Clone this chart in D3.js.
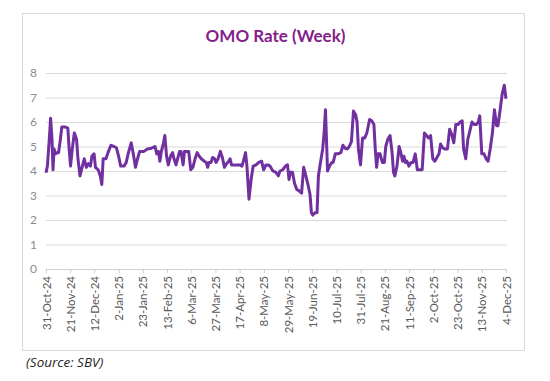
<!DOCTYPE html>
<html>
<head>
<meta charset="utf-8">
<script src="https://cdn.jsdelivr.net/npm/d3@7"></script>
<style>
  html, body { margin: 0; padding: 0; background: #fff; }
  svg { display: block; }
</style>
</head>
<body>
<svg id="chart" width="550" height="381"></svg>
<script>
// ---- data ----
const startDate = "2024-10-31";
const tickLabels = ["31-Oct-24","21-Nov-24","12-Dec-24","2-Jan-25","23-Jan-25","13-Feb-25","6-Mar-25","27-Mar-25","17-Apr-25","8-May-25","29-May-25","19-Jun-25","10-Jul-25","31-Jul-25","21-Aug-25","11-Sep-25","2-Oct-25","23-Oct-25","13-Nov-25","4-Dec-25"];
const tickDays = [0,21,42,63,84,105,126,147,168,189,210,231,252,273,294,315,336,357,378,399];
const yTicks = [0,1,2,3,4,5,6,7,8];
// days after 31-Oct-24
const days = [0,1.2,2.7,4.0,5.2,6.1,7.0,8.2,9.4,10.9,12.5,13.7,16.4,18.9,20.1,21.3,22.8,24.6,26.5,27.7,29.5,31.3,33.2,35.0,36.8,38.6,39.8,41.7,42.9,45.3,47.1,48.4,49.6,52.0,53.8,56.3,59.0,61.1,63.0,64.8,67.8,69.6,71.5,73.9,75.7,77.6,79.4,81.2,84.9,87.9,91.5,94.6,96.1,97.6,98.8,100.1,101.9,103.1,104.6,106.1,108.0,109.8,111.0,112.8,114.7,115.9,117.1,118.9,120.1,122.0,123.8,125.6,127.4,129.3,131.1,132.9,134.7,137.2,139.0,140.2,141.4,143.2,144.5,146.3,147.5,149.3,151.2,153.0,154.8,156.6,158.5,159.7,160.9,163.3,165.8,168.2,170.0,171.2,173.1,174.3,176.1,177.9,179.7,182.2,184.6,187.0,188.8,190.7,192.5,194.3,196.8,199.2,201.6,202.9,205.3,207.7,209.5,210.8,212.0,213.8,215.6,217.5,219.3,221.7,223.5,225.4,227.2,229.0,230.2,231.4,233.3,235.1,236.3,238.1,240.0,241.2,242.4,244.2,246.0,247.9,249.1,250.9,253.3,255.8,257.6,259.4,261.3,263.1,264.9,266.7,268.6,269.8,271.0,272.8,274.6,276.5,278.3,280.7,282.5,284.4,285.6,286.8,288.0,289.8,291.7,293.5,294.7,296.5,298.4,300.2,301.4,302.6,304.4,306.3,307.5,309.3,310.5,311.7,313.0,314.8,316.6,318.4,320.3,322.1,324.5,326.3,328.2,330.0,331.8,333.6,335.5,337.3,339.1,340.9,342.2,344.0,345.8,348.2,350.1,351.9,353.7,355.5,357.4,359.2,361.0,362.2,364.1,365.9,367.7,369.5,371.4,373.2,375.0,376.2,378.0,379.9,381.7,383.5,385.3,387.2,389.0,390.8,392.0,393.9,395.7,397.5,399.0];
const rates = [3.93,4.2,5.2,6.15,5.3,4.05,4.9,4.7,4.75,4.75,5.3,5.8,5.8,5.75,4.9,4.2,4.9,5.55,5.3,4.5,3.8,4.15,4.5,4.15,4.3,4.2,4.6,4.7,4.15,4.05,3.8,3.45,4.5,4.5,4.75,5.05,5.0,4.95,4.6,4.2,4.2,4.35,4.75,5.15,4.7,4.15,4.5,4.8,4.8,4.9,4.93,5.0,4.7,4.8,4.4,4.8,5.15,5.45,4.6,4.25,4.6,4.75,4.5,4.25,4.6,4.8,4.8,4.25,4.8,4.8,4.8,4.05,4.15,4.5,4.75,4.6,4.5,4.4,4.35,4.15,4.35,4.35,4.55,4.5,4.35,4.5,4.8,4.55,4.15,4.3,4.4,4.5,4.25,4.25,4.25,4.25,4.2,4.4,4.75,4.2,2.85,3.65,4.2,4.25,4.35,4.4,4.05,4.25,4.25,4.2,4.0,3.95,3.8,4.0,4.05,4.2,4.25,3.65,3.95,3.95,3.5,3.25,3.2,3.1,4.15,3.8,3.45,3.05,2.3,2.2,2.3,2.3,3.8,4.35,4.9,5.55,6.5,4.0,4.2,4.35,4.35,4.7,4.7,4.75,5.05,4.93,4.9,5.0,5.2,6.45,6.3,6.0,4.9,4.25,5.35,5.35,5.55,6.1,6.05,5.9,4.9,4.15,4.7,4.7,4.35,4.35,5.0,5.3,5.45,4.75,3.95,3.8,4.2,5.0,4.8,4.4,4.6,4.35,4.4,4.2,4.35,4.35,4.7,4.05,4.05,4.05,5.55,5.45,5.35,5.45,4.5,4.4,4.55,4.7,5.1,4.95,4.9,4.9,5.7,5.5,5.15,5.9,5.9,6.0,6.05,4.9,4.5,5.3,5.65,6.0,5.9,5.9,6.0,6.25,4.7,4.7,4.5,4.4,4.9,5.55,6.5,5.85,5.85,6.5,7.15,7.5,6.95];
const titleText = "OMO Rate (Week)";
const sourceText = "(Source: SBV)";

// ---- drawing ----
const svg = d3.select("#chart");
const base = d3.timeParse("%Y-%m-%d")(startDate);
const toDate = d => d3.timeHour.offset(base, Math.round(d * 24));

const x = d3.scaleTime()
  .domain([toDate(0), toDate(399)])
  .range([46, 506]);
const y = d3.scaleLinear().domain([0, 8]).range([269, 73]);

// frame
svg.append("rect")
  .attr("x", 22.5).attr("y", 13.5)
  .attr("width", 502).attr("height", 337)
  .attr("fill", "#fff").attr("stroke", "#d9d9d9").attr("stroke-width", 1);

// title
svg.append("text")
  .attr("x", 275.5).attr("y", 42)
  .attr("text-anchor", "middle")
  .attr("font-family", "Lato, 'Open Sans', sans-serif")
  .attr("font-weight", "bold")
  .attr("font-size", 17)
  .attr("fill", "#84208a")
  .text(titleText);

// gridlines + y labels
const yAxis = d3.axisLeft(y).tickValues(yTicks).tickSize(-(507 - 46)).tickPadding(9);
const gy = svg.append("g").attr("transform", "translate(46,0)").call(yAxis);
gy.select(".domain").remove();
gy.selectAll(".tick line").attr("stroke", "#d9d9d9").attr("stroke-width", 1);
gy.selectAll(".tick text")
  .attr("font-family", "Lato, 'Open Sans', sans-serif")
  .attr("font-size", 12).attr("fill", "#8c8c8c");

// x axis
const xAxis = d3.axisBottom(x)
  .tickValues(tickDays.map(toDate))
  .tickFormat((d, i) => tickLabels[i])
  .tickSize(4).tickSizeOuter(0);
const gx = svg.append("g").attr("transform", "translate(0,269)").call(xAxis);
gx.select(".domain").attr("stroke", "#d0d0d0");
gx.selectAll(".tick line").attr("stroke", "#d0d0d0");
gx.selectAll(".tick text")
  .attr("font-family", "Lato, 'Open Sans', sans-serif")
  .attr("font-size", 11.5).attr("fill", "#595959")
  .attr("text-anchor", "end")
  .attr("transform", "rotate(-90)")
  .attr("x", -7).attr("y", 0).attr("dy", "0.35em");

// line
const line = d3.line()
  .x((d, i) => x(toDate(days[i])))
  .y((d) => y(d));
svg.append("path")
  .datum(rates)
  .attr("fill", "none")
  .attr("stroke", "#7030a0")
  .attr("stroke-width", 3)
  .attr("stroke-linejoin", "round")
  .attr("d", line);

// source
svg.append("text")
  .attr("x", 26).attr("y", 367)
  .attr("font-family", "'Open Sans', Lato, sans-serif")
  .attr("font-style", "italic")
  .attr("font-size", 13.5)
  .attr("fill", "#262626")
  .text(sourceText);
</script>
</body>
</html>
